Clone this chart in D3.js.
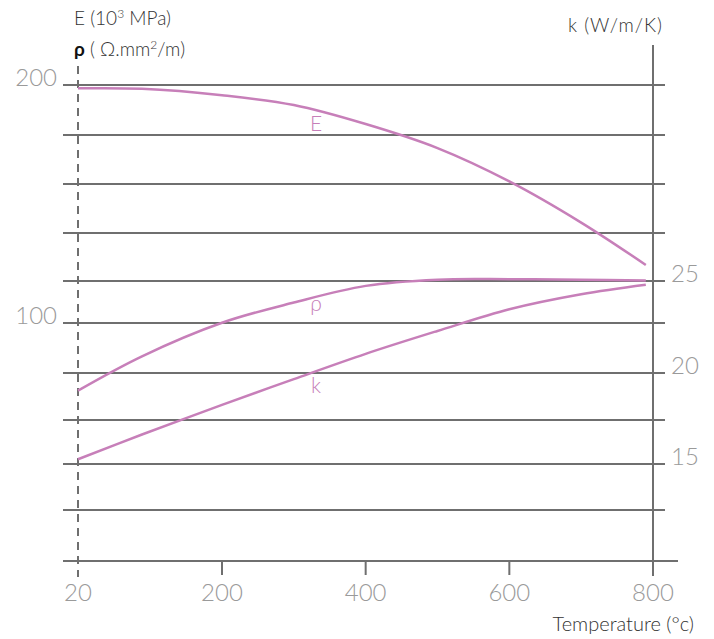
<!DOCTYPE html>
<html><head><meta charset="utf-8">
<script src="https://cdn.jsdelivr.net/npm/d3@7"></script>
<style>
body{margin:0;background:#fff;}
text{font-family:Lato,"Open Sans",Roboto,sans-serif;font-weight:300;}
</style></head>
<body><svg id="c" width="714" height="639"></svg>
<script>
// Data
const temps = [20, 100, 200, 300, 400, 500, 600, 700, 790];
const eValues = [198.6, 198.4, 195.7, 191.6, 183.6, 173.5, 159.5, 142.2, 124.4];
const rhoValues = [71.6, 86.0, 100.1, 108.6, 115.6, 118.2, 118.4, 118.2, 117.9];
const kValues = [15.26, 16.61, 18.23, 19.64, 21.02, 22.27, 23.46, 24.28, 24.8];
const xTicks = [20, 200, 400, 600, 800];
const leftTicks = [200, 100];
const rightTicks = [25, 20, 15];
const gridValues = [200, 179, 158.4, 137.8, 117.6, 100, 79, 59.2, 40.8, 21.4];

const svg = d3.select("#c");
const pink = "#c77fb9", grid = "#6f6f6f", tickCol = "#9a9a9a";

const x = d3.scaleLinear().domain([20, 200, 800]).range([78, 222, 653]);
const yL = d3.scaleLinear().domain([0, 200]).range([561, 85]);
const yR = d3.scaleLinear().domain([15, 25]).range([464, 281]);

// gridlines
svg.append("g").selectAll("line").data(gridValues).join("line")
  .attr("x1", 63).attr("x2", 665)
  .attr("y1", d => yL(d)).attr("y2", d => yL(d))
  .attr("stroke", grid).attr("stroke-width", 2);

// bottom axis line
svg.append("line").attr("x1", 63).attr("x2", 678).attr("y1", yL(0)).attr("y2", yL(0))
  .attr("stroke", grid).attr("stroke-width", 2);
// bottom ticks
svg.append("g").selectAll("line").data([200, 400, 600]).join("line")
  .attr("x1", d => x(d)).attr("x2", d => x(d))
  .attr("y1", yL(0)).attr("y2", yL(0) + 14)
  .attr("stroke", grid).attr("stroke-width", 2);

// left dashed axis
svg.append("line").attr("x1", x(20)).attr("x2", x(20)).attr("y1", 66).attr("y2", 577)
  .attr("stroke", grid).attr("stroke-width", 2).attr("stroke-dasharray", "8,6");
// right axis
svg.append("line").attr("x1", x(800)).attr("x2", x(800)).attr("y1", 45).attr("y2", 576)
  .attr("stroke", grid).attr("stroke-width", 2);

// tick labels
svg.append("g").selectAll("text").data(xTicks).join("text")
  .attr("x", d => x(d)).attr("y", 601).attr("text-anchor", "middle")
  .attr("font-size", 24).attr("fill", tickCol).text(d => d);
svg.append("g").selectAll("text").data(leftTicks).join("text")
  .attr("x", 57).attr("y", d => yL(d) + 1).attr("text-anchor", "end")
  .attr("font-size", 24).attr("fill", tickCol).text(d => d);
svg.append("g").selectAll("text").data(rightTicks).join("text")
  .attr("x", 671).attr("y", d => yR(d) + 1).attr("text-anchor", "start")
  .attr("font-size", 24).attr("fill", tickCol).text(d => d);

// axis titles
const t1 = svg.append("text").attr("x", 74).attr("y", 25).attr("font-size", 19).attr("fill", "#333");
t1.append("tspan").text("E (10");
t1.append("tspan").attr("font-size", 12).attr("dy", -7).text("3");
t1.append("tspan").attr("dy", 7).text(" MPa)");
const t2 = svg.append("text").attr("x", 74).attr("y", 56).attr("font-size", 19).attr("fill", "#333");
t2.append("tspan").attr("font-weight", 700).attr("fill", "#111").text("ρ");
t2.append("tspan").text(" ( Ω.mm");
t2.append("tspan").attr("font-size", 12).attr("dy", -7).text("2");
t2.append("tspan").attr("dy", 7).text("/m)");
svg.append("text").attr("x", 568).attr("y", 32).attr("font-size", 19).attr("letter-spacing", 1).attr("fill", "#333").text("k (W/m/K)");
svg.append("text").attr("x", 694).attr("y", 631).attr("text-anchor", "end").attr("font-size", 20).attr("fill", "#333").text("Temperature (°c)");

// curves
const lineL = d3.line().x((d, i) => x(temps[i])).y(d => yL(d)).curve(d3.curveCatmullRom.alpha(0.5));
const lineR = d3.line().x((d, i) => x(temps[i])).y(d => yR(d)).curve(d3.curveCatmullRom.alpha(0.5));
svg.append("path").attr("d", lineL(eValues)).attr("fill", "none").attr("stroke", pink).attr("stroke-width", 2.5);
svg.append("path").attr("d", lineL(rhoValues)).attr("fill", "none").attr("stroke", pink).attr("stroke-width", 2.5);
svg.append("path").attr("d", lineR(kValues)).attr("fill", "none").attr("stroke", pink).attr("stroke-width", 2.5);

// curve labels
const labels = [{t: "E", y: 131}, {t: "ρ", y: 311}, {t: "k", y: 393}];
svg.append("g").selectAll("text").data(labels).join("text")
  .attr("x", 316).attr("y", d => d.y).attr("text-anchor", "middle")
  .attr("font-size", 21).attr("fill", pink).text(d => d.t);
</script></body></html>
